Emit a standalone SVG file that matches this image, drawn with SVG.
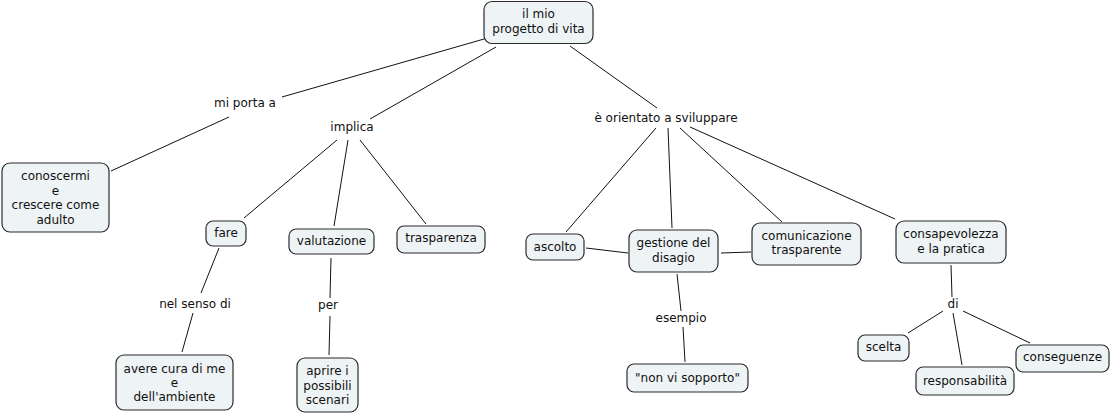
<svg xmlns="http://www.w3.org/2000/svg" width="1111" height="414" viewBox="0 0 1111 414">
<style>
.n rect{fill:#eef3f5;stroke:#2b2b2b;stroke-width:1.2}
text{font-family:"DejaVu Sans",Verdana,sans-serif;font-size:12px;fill:#111;text-anchor:middle}
.c line{stroke:#111;stroke-width:1}
</style>
<rect width="1111" height="414" fill="#fff"/>
<g class="c">
<line x1="484" y1="39" x2="282" y2="97"/>
<line x1="229" y1="117" x2="111" y2="171"/>
<line x1="496" y1="47" x2="370" y2="119"/>
<line x1="337" y1="140" x2="244" y2="218"/>
<line x1="348" y1="140" x2="334" y2="226"/>
<line x1="360" y1="140" x2="426" y2="224"/>
<line x1="219" y1="248" x2="201" y2="293"/>
<line x1="193" y1="313" x2="182" y2="352"/>
<line x1="331" y1="258" x2="330" y2="298"/>
<line x1="330" y1="316" x2="329" y2="355"/>
<line x1="570" y1="46" x2="657" y2="108"/>
<line x1="656" y1="128" x2="566" y2="232"/>
<line x1="668" y1="128" x2="672" y2="228"/>
<line x1="680" y1="128" x2="782" y2="222"/>
<line x1="690" y1="127" x2="895" y2="219"/>
<line x1="586" y1="248" x2="628" y2="253"/>
<line x1="721" y1="253" x2="751" y2="252"/>
<line x1="677" y1="274" x2="681" y2="311"/>
<line x1="683" y1="327" x2="685" y2="362"/>
<line x1="951" y1="265" x2="952" y2="297"/>
<line x1="943" y1="311" x2="908" y2="333"/>
<line x1="953" y1="313" x2="962" y2="365"/>
<line x1="963" y1="311" x2="1030" y2="343"/>
</g>
<g id="labels">
<text x="245" y="107">mi porta a</text>
<text x="352" y="131">implica</text>
<text x="666" y="122">è orientato a sviluppare</text>
<text x="195" y="308">nel senso di</text>
<text x="328" y="309">per</text>
<text x="681" y="322">esempio</text>
<text x="953" y="308">di</text>
</g>
<g id="root" class="n"><rect x="484" y="1.5" width="109" height="42" rx="8"/><text x="538.5" y="18">il mio</text><text x="538.5" y="33">progetto di vita</text></g>
<g id="conoscermi" class="n"><rect x="2" y="163" width="107" height="69" rx="8"/><text x="55.5" y="180">conoscermi</text><text x="55.5" y="194.5">e</text><text x="55.5" y="209">crescere come</text><text x="55.5" y="223.5">adulto</text></g>
<g id="fare" class="n"><rect x="206" y="221" width="40" height="25" rx="7"/><text x="226" y="237">fare</text></g>
<g id="valutazione" class="n"><rect x="289" y="229" width="85" height="25" rx="7"/><text x="331.5" y="245">valutazione</text></g>
<g id="trasparenza" class="n"><rect x="397" y="226" width="88" height="27" rx="7"/><text x="441" y="242">trasparenza</text></g>
<g id="avere" class="n"><rect x="116" y="355" width="117" height="55" rx="8"/><text x="174.5" y="373">avere cura di me</text><text x="174.5" y="387">e</text><text x="174.5" y="401">dell'ambiente</text></g>
<g id="aprire" class="n"><rect x="297" y="358" width="61" height="54" rx="8"/><text x="327.5" y="375">aprire i</text><text x="327.5" y="389.5">possibili</text><text x="327.5" y="404">scenari</text></g>
<g id="ascolto" class="n"><rect x="526" y="234" width="58" height="26" rx="7"/><text x="555" y="251">ascolto</text></g>
<g id="gestione" class="n"><rect x="629" y="230" width="89" height="42" rx="8"/><text x="673.5" y="247">gestione del</text><text x="673.5" y="262">disagio</text></g>
<g id="comunicazione" class="n"><rect x="752" y="223" width="109" height="42" rx="8"/><text x="806.5" y="240">comunicazione</text><text x="806.5" y="254">trasparente</text></g>
<g id="consapevolezza" class="n"><rect x="896" y="221" width="110" height="42" rx="8"/><text x="951" y="238">consapevolezza</text><text x="951" y="253">e la pratica</text></g>
<g id="nonvisopporto" class="n"><rect x="627" y="364" width="121" height="28" rx="7"/><text x="687.5" y="382">"non vi sopporto"</text></g>
<g id="scelta" class="n"><rect x="858" y="335" width="51" height="26" rx="7"/><text x="883.5" y="351">scelta</text></g>
<g id="responsabilita" class="n"><rect x="916" y="367" width="98" height="28" rx="7"/><text x="965" y="385">responsabilità</text></g>
<g id="conseguenze" class="n"><rect x="1016" y="345" width="93" height="27" rx="7"/><text x="1062.5" y="361">conseguenze</text></g>
</svg>
